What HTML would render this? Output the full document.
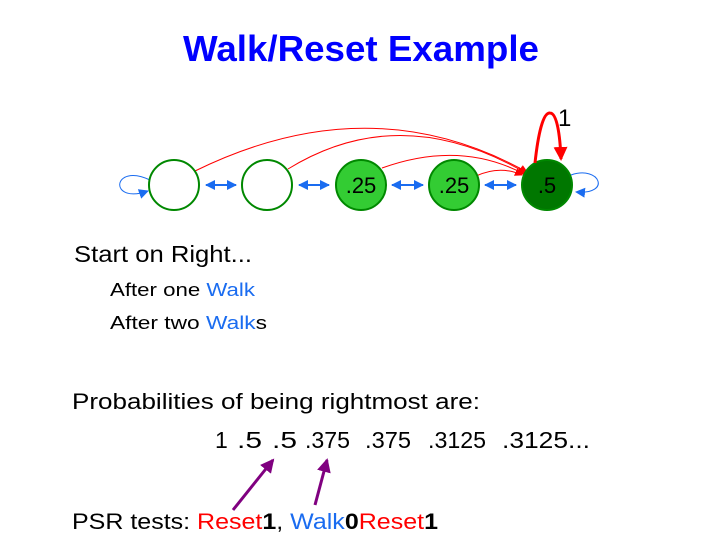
<!DOCTYPE html>
<html><head><meta charset="utf-8"><style>
html,body{margin:0;padding:0;background:#fff;width:720px;height:540px;overflow:hidden}
text{font-family:"Liberation Sans",sans-serif}
</style></head><body>
<svg width="720" height="540" viewBox="0 0 720 540" xmlns="http://www.w3.org/2000/svg">
<defs>
<marker id="rb" markerWidth="8" markerHeight="8" refX="7" refY="4" orient="auto" markerUnits="userSpaceOnUse"><path d="M0,0 L8,4 L0,8z" fill="#f00"/></marker>
<marker id="rbig" markerWidth="14" markerHeight="14" refX="12" refY="7" orient="auto" markerUnits="userSpaceOnUse"><path d="M0,0 L14,7 L0,14z" fill="#f00"/></marker>
<marker id="bb" markerWidth="10" markerHeight="10" refX="9" refY="5" orient="auto-start-reverse" markerUnits="userSpaceOnUse"><path d="M0,0 L10,5 L0,10z" fill="#1a6cf0"/></marker>
<marker id="pb" markerWidth="14" markerHeight="14" refX="12" refY="7" orient="auto" markerUnits="userSpaceOnUse"><path d="M0,0 L14,7 L0,14z" fill="#800080"/></marker>
</defs>
<text x="361" y="61" font-size="36" font-weight="bold" fill="#0000ff" text-anchor="middle" textLength="356" lengthAdjust="spacingAndGlyphs">Walk/Reset Example</text>

<g fill="none" stroke="#f00" stroke-width="1">
<path d="M195,171 Q370,85 527,172" marker-end="url(#rb)"/>
<path d="M288,169 Q400,100 526,173" marker-end="url(#rb)"/>
<path d="M382,168 Q460,140 524,174" marker-end="url(#rb)"/>
<path d="M476,176 Q500,165 522,175" marker-end="url(#rb)"/>
</g>

<path d="M150,180 C112,162 108,205 148,191" fill="none" stroke="#1a6cf0" stroke-width="1" marker-end="url(#bb)"/>
<path d="M571,175 C600,165 612,195 576,192" fill="none" stroke="#1a6cf0" stroke-width="1" marker-end="url(#bb)"/>
<g stroke="#1a6cf0" stroke-width="2" marker-start="url(#bb)" marker-end="url(#bb)">
<line x1="206" y1="185" x2="236" y2="185"/>
<line x1="299" y1="185" x2="329" y2="185"/>
<line x1="392" y1="185" x2="423" y2="185"/>
<line x1="485" y1="185" x2="516" y2="185"/>
</g>

<circle cx="174" cy="185" r="25" fill="#fff" stroke="#008800" stroke-width="2"/>
<circle cx="267" cy="185" r="25" fill="#fff" stroke="#008800" stroke-width="2"/>
<circle cx="361" cy="185" r="25" fill="#33cc33" stroke="#008800" stroke-width="2"/>
<circle cx="454" cy="185" r="25" fill="#33cc33" stroke="#008800" stroke-width="2"/>
<circle cx="547" cy="185" r="25" fill="#007700" stroke="#008800" stroke-width="2"/>
<g font-size="22" text-anchor="middle">
<text x="361" y="193">.25</text>
<text x="454" y="193">.25</text>
<text x="547" y="193">.5</text>
</g>
<path d="M535,163 C538,135 543,112 550,113 C557,113 560,135 561,159" fill="none" stroke="#f00" stroke-width="3" marker-end="url(#rbig)"/>
<text x="558" y="126" font-size="24" font-family="Liberation Serif">1</text>

<text x="74" y="262" font-size="23" textLength="178" lengthAdjust="spacingAndGlyphs">Start on Right...</text>
<text x="110" y="296" font-size="18" textLength="145" lengthAdjust="spacingAndGlyphs">After one <tspan fill="#1a6cf0">Walk</tspan></text>
<text x="110" y="329" font-size="18" textLength="157" lengthAdjust="spacingAndGlyphs">After two <tspan fill="#1a6cf0">Walk</tspan>s</text>

<text x="72" y="409" font-size="22" textLength="408" lengthAdjust="spacingAndGlyphs">Probabilities of being rightmost are:</text>
<g font-size="23" lengthAdjust="spacingAndGlyphs">
<text x="215" y="448">1</text>
<text x="237" y="448" textLength="25" lengthAdjust="spacingAndGlyphs">.5</text>
<text x="272" y="448" textLength="25" lengthAdjust="spacingAndGlyphs">.5</text>
<text x="305" y="448" textLength="45" lengthAdjust="spacingAndGlyphs">.375</text>
<text x="365" y="448" textLength="46" lengthAdjust="spacingAndGlyphs">.375</text>
<text x="428" y="448" textLength="58" lengthAdjust="spacingAndGlyphs">.3125</text>
<text x="502" y="448" textLength="88" lengthAdjust="spacingAndGlyphs">.3125...</text>
</g>

<line x1="233" y1="510" x2="273" y2="460" stroke="#800080" stroke-width="3" marker-end="url(#pb)"/>
<line x1="315" y1="505" x2="327" y2="460" stroke="#800080" stroke-width="3" marker-end="url(#pb)"/>

<text x="72" y="529" font-size="22" textLength="366" lengthAdjust="spacingAndGlyphs">PSR tests: <tspan fill="#f00">Reset</tspan><tspan font-weight="bold">1</tspan>, <tspan fill="#1a6cf0">Walk</tspan><tspan font-weight="bold">0</tspan><tspan fill="#f00">Reset</tspan><tspan font-weight="bold">1</tspan></text>
</svg>
</body></html>
